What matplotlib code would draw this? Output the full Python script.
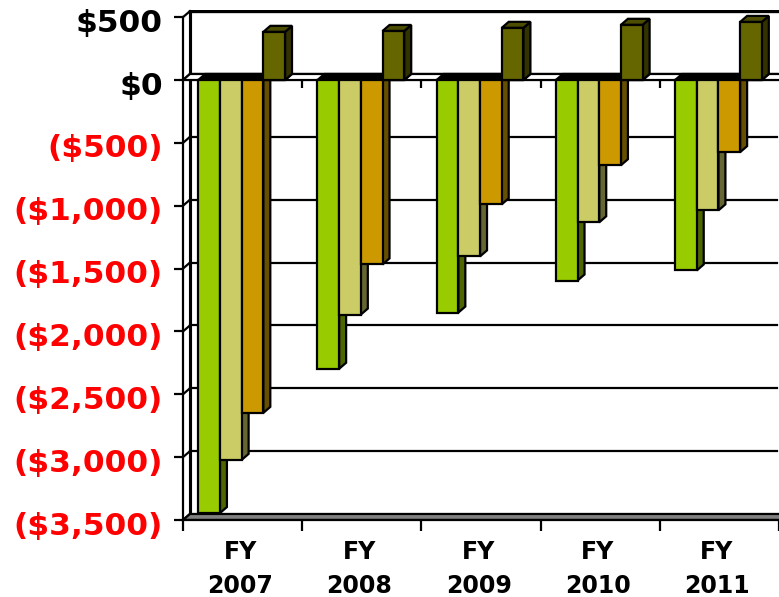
import matplotlib
matplotlib.use('Agg')
import matplotlib.pyplot as plt
from matplotlib.patches import Polygon
from matplotlib.transforms import ScaledTranslation

years = ['FY\n2007', 'FY\n2008', 'FY\n2009', 'FY\n2010', 'FY\n2011']
green_vals = [-3445, -2297, -1850, -1595, -1515]
tan_vals = [-3022, -1866, -1403, -1132, -1037]
orange_vals = [-2648, -1467, -989, -678, -574]
olive_vals = [383, 390, 415, 439, 462]
y_ticks = [500, 0, -500, -1000, -1500, -2000, -2500, -3000, -3500]
y_labels = ['$500', '$0', '($500)', '($1,000)', '($1,500)', '($2,000)', '($2,500)', '($3,000)', '($3,500)']

# face, side, top colours
series = [
    (green_vals, '#99cc00', '#4d6600', '#4d6600'),
    (tan_vals, '#cccc66', '#666633', '#666633'),
    (orange_vals, '#cc9900', '#665000', '#665000'),
    (olive_vals, '#666600', '#333300', '#4d4d00'),
]

W, H = 779, 597
LW = 1.6
fig = plt.figure(figsize=(W / 100, H / 100), dpi=100)
ax = fig.add_axes([183 / W, (H - 520) / H, (W - 183) / W, (520 - 10) / H])
ax.set_xlim(0, (W - 183) / 119.6)
ax.set_ylim(-3500, 557)
ax.patch.set_alpha(0)

# depth of the fake 3d box, in data units
dx = 7 / 119.6
dy = 48
bar_w = 0.182
x_end = ax.get_xlim()[1]

# back wall gridlines and the slanted bits on the left wall
for t in y_ticks:
    ax.plot([0, dx], [t, t + dy], color='k', lw=LW, zorder=1, clip_on=False)
    if t > -3500:
        ax.plot([dx, x_end], [t + dy, t + dy], color='k', lw=LW * (1.5 if t == 500 else 1), zorder=1)
ax.plot([dx, dx], [-3500 + dy, 500 + dy], color='k', lw=LW * 1.4, zorder=1)

# floor
ax.add_patch(Polygon([(0, -3500), (dx, -3500 + dy), (x_end + 1, -3500 + dy), (x_end + 1, -3500)],
                     fc='#808080', ec='k', lw=LW, zorder=1.5))

# zero plane
ax.add_patch(Polygon([(0, 0), (dx, dy), (x_end + 1, dy), (x_end + 1, 0)],
                     fc='white', ec='k', lw=LW, zorder=1.6))
ax.vlines(range(1, 5), -62, 0, color='k', lw=LW, zorder=1.7)

for i in range(len(years)):
    x0 = i + 0.128
    # black underside of the zero plane behind the hanging bars
    ax.add_patch(Polygon([(x0, 0), (x0 + dx, dy), (x0 + 4 * bar_w + dx, dy), (x0 + 4 * bar_w, 0)],
                         fc='k', ec='k', lw=LW, zorder=2))
    for j, (vals, face, side, top) in enumerate(series):
        v = vals[i]
        x = x0 + j * bar_w
        xr = x + bar_w
        z = 3 + j
        side_top = dy if v > 0 else 0
        ax.add_patch(Polygon([(xr, v), (xr + dx, v + dy), (xr + dx, side_top), (xr, 0)],
                             fc=side, ec='k', lw=LW, zorder=z))
        if v > 0:
            ax.add_patch(Polygon([(x, v), (x + dx, v + dy), (xr + dx, v + dy), (xr, v)],
                                 fc=top, ec='k', lw=LW, zorder=z))
        ax.bar(x, v, width=bar_w, align='edge', color=face, edgecolor='k', linewidth=LW, zorder=z + 0.1)

for s in ['top', 'right']:
    ax.spines[s].set_visible(False)
ax.spines['left'].set_bounds(-3500, 500)
ax.spines['left'].set_linewidth(LW)
ax.spines['bottom'].set_linewidth(LW)

ax.set_yticks(y_ticks)
ax.set_yticklabels(y_labels, fontsize=22.5, fontweight='bold', family='DejaVu Sans')
ax.tick_params(axis='y', length=6.5, width=LW, pad=8)
# labels sit a few pixels under their ticks
shift = ScaledTranslation(0, -3 / 100, fig.dpi_scale_trans)
for lab, t in zip(ax.get_yticklabels(), y_ticks):
    lab.set_color('red' if t < 0 else 'black')
    lab.set_transform(lab.get_transform() + shift)

ax.set_xticks(range(0, 5 + 1))
ax.set_xticklabels([])
ax.set_xticks([i + 0.48 for i in range(5)], minor=True)
ax.set_xticklabels(years, minor=True, fontsize=17, fontweight='bold', linespacing=1.5)
ax.tick_params(axis='x', which='major', length=8, width=LW)
ax.tick_params(axis='x', which='minor', length=0, pad=14.5)

fig.savefig('out.png', dpi=100)
